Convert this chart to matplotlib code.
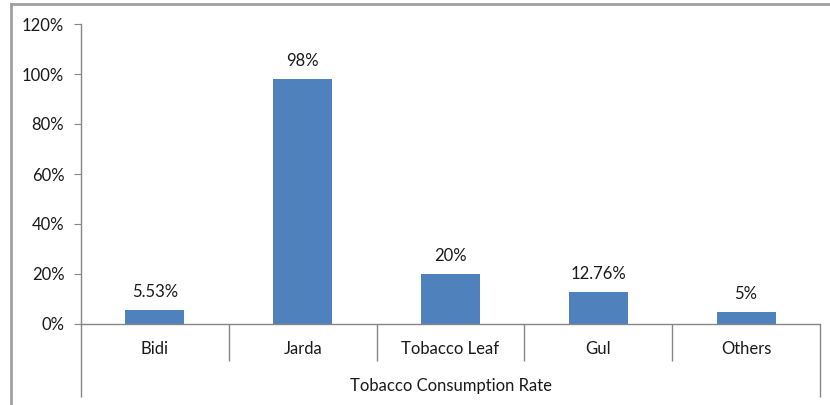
import matplotlib.pyplot as plt
from matplotlib.lines import Line2D
import numpy as np

plt.rcParams['font.family'] = ['Lato', 'DejaVu Sans']

categories = ["Bidi", "Jarda", "Tobacco Leaf", "Gul", "Others"]
values = [5.53, 98, 20, 12.76, 5]   # percent
group_label = "Tobacco Consumption Rate"
yticks = [0, 20, 40, 60, 80, 100, 120]

bar_color = "#4F81BD"
axis_color = "#868686"
text_color = "#1a1a1a"
fs = 12

fig = plt.figure(figsize=(8.3, 4.05), dpi=100)
W, H = 830, 405
ax = fig.add_axes([81 / W, 81 / H, (820 - 81) / W, 300 / H])

x = np.arange(len(categories))
ax.bar(x, values, width=0.4, color=bar_color, zorder=2)

for xi, v in zip(x, values):
    ax.annotate(f"{v:g}%", (xi, v), xytext=(0, 7), textcoords="offset points",
                ha="center", va="bottom", fontsize=fs, color=text_color)

ax.set_xlim(-0.5, len(categories) - 0.5)
ax.set_ylim(0, 120)
ax.set_yticks(yticks)
ax.set_yticklabels([f"{t}%" for t in yticks], fontsize=fs, color=text_color)
ax.tick_params(axis="y", direction="out", length=5, color=axis_color, pad=7)
ax.set_xticks([])

for s in ["top", "right"]:
    ax.spines[s].set_visible(False)
for s in ["left", "bottom"]:
    ax.spines[s].set_color(axis_color)
    ax.spines[s].set_linewidth(1.0)

# category dividers below the axis
trans = ax.get_xaxis_transform()
inner = np.arange(0.5, len(categories) - 1, 1.0)
ax.vlines(inner, -37 / 300, 0, transform=trans, color=axis_color, lw=1.0, clip_on=False)
ax.vlines([-0.5, len(categories) - 0.5], -73 / 300, 0, transform=trans,
          color=axis_color, lw=1.0, clip_on=False)

for xi, c in zip(x, categories):
    ax.text(xi, -25 / 300, c, transform=trans, ha="center", va="center",
            fontsize=fs, color=text_color)
ax.text((len(categories) - 1) / 2, -62 / 300, group_label, transform=trans,
        ha="center", va="center", fontsize=fs, color=text_color)

# chart border (top and left edges visible)
fig.add_artist(Line2D([11 / W, 1.0], [1 - 4 / H, 1 - 4 / H], transform=fig.transFigure,
                      color="#A0A0A0", lw=2))
fig.add_artist(Line2D([11 / W, 11 / W], [0, 1 - 4 / H], transform=fig.transFigure,
                      color="#A0A0A0", lw=2))

fig.savefig("out.png", dpi=100)
